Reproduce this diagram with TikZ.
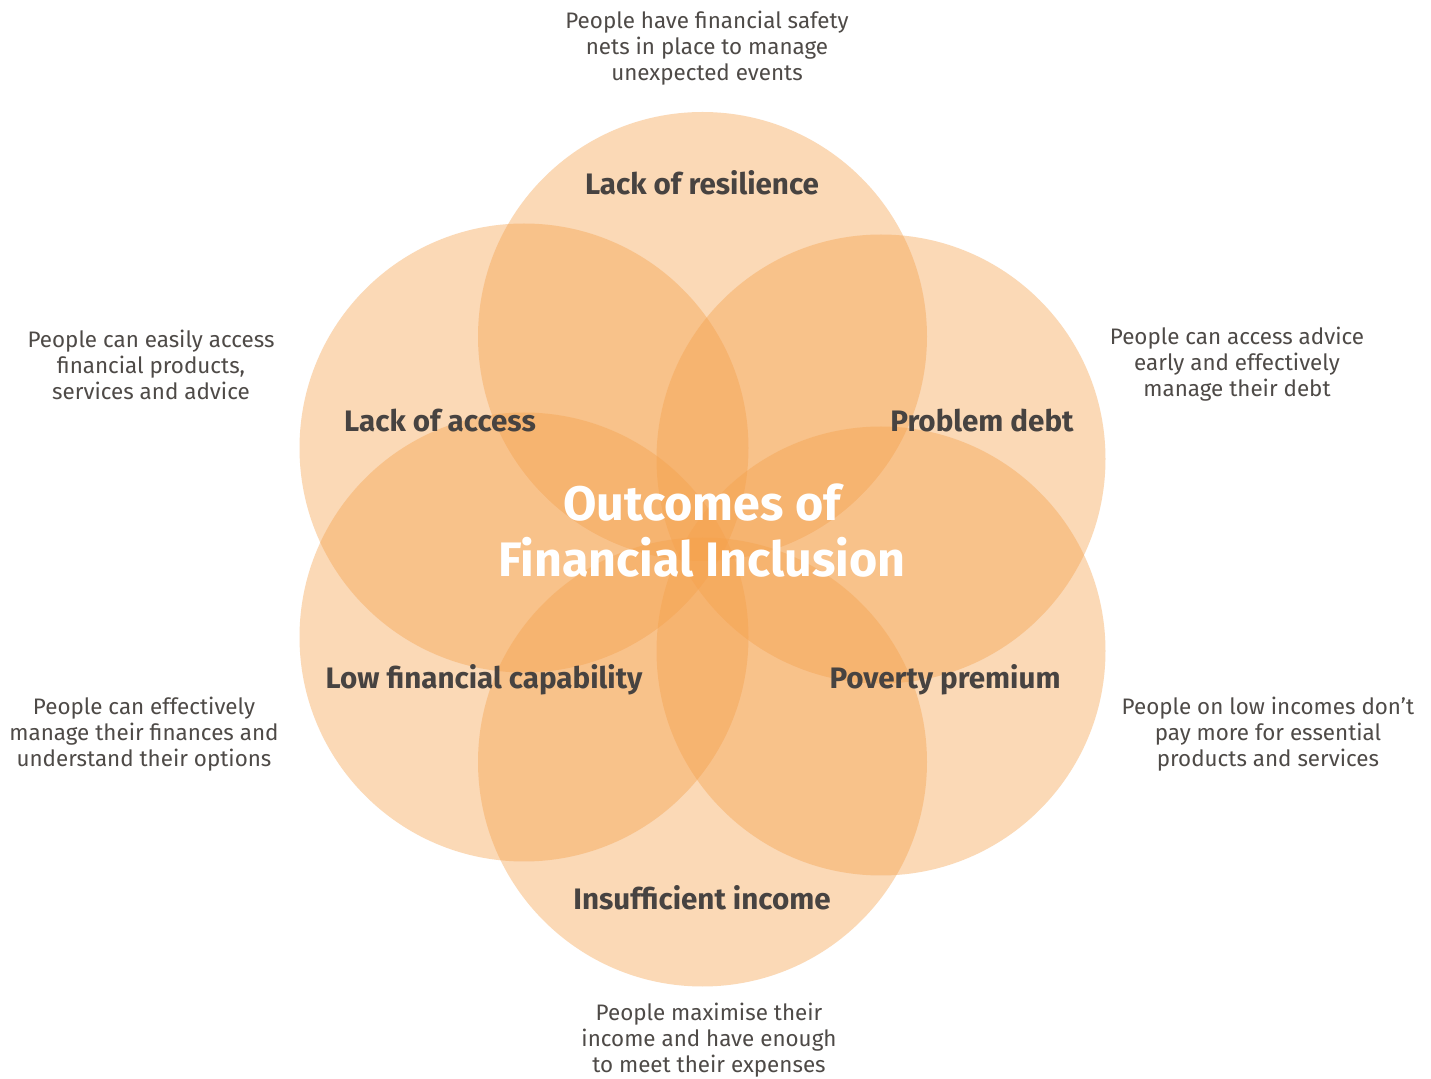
\documentclass[tikz,border=0pt]{standalone}
\usepackage{fontspec}
\setmainfont{Fira Sans}
\definecolor{petalorange}{HTML}{F5A04A}
\definecolor{labelgrey}{HTML}{474341}
\definecolor{notegrey}{HTML}{4E4A47}
\begin{document}
\begin{tikzpicture}[x=0.5pt,y=-0.5pt,
  petal/.style={circle,inner sep=0pt,minimum size=224.5pt,fill=petalorange,fill opacity=0.4,draw=none},
  theme/.style={text=labelgrey,font=\fontsize{14.8}{17}\selectfont\bfseries,inner sep=0pt},
  note/.style={text=notegrey,align=center,font=\fontsize{11.2}{13}\selectfont,inner sep=0pt},
  core/.style={text=white,align=center,font=\fontsize{24.2}{28}\selectfont\bfseries,inner sep=0pt}]
\useasboundingbox (0,0) rectangle (1431,1079);
\fill[white] (0,0) rectangle (1431,1079);

% six overlapping petals
\node[petal] (resilience) at (702.5,336.5) {};
\node[petal] (access)     at (524,448) {};
\node[petal] (debt)       at (881,459) {};
\node[petal] (capability) at (524,637) {};
\node[petal] (premium)    at (881,651) {};
\node[petal] (income)     at (702.5,762) {};

% petal labels
\node[theme] (tres) at (702,183) {Lack of resilience};
\node[theme] (tacc) at (440,421) {Lack of access};
\node[theme] (tdebt) at (982,421) {Problem debt};
\node[theme] (tcap) at (484,680) {Low financial capability};
\node[theme] (tprem) at (945,680) {Poverty premium};
\node[theme] (tinc) at (702,898) {Insufficient income};

% centre title
\node[core] (title) at (702,531) {Outcomes of\\Financial Inclusion};

% outcome notes
\node[note] (nres) at (707,48) {People have financial safety\\nets in place to manage\\unexpected events};
\node[note] (nacc) at (151,365) {People can easily access\\financial products,\\services and advice};
\node[note] (ndebt) at (1237,364) {People can access advice\\early and effectively\\manage their debt};
\node[note] (ncap) at (144,734) {People can effectively\\manage their finances and\\understand their options};
\node[note] (nprem) at (1268,734) {People on low incomes don’t\\pay more for essential\\products and services};
\node[note] (ninc) at (709,1040) {People maximise their\\income and have enough\\to meet their expenses};
\end{tikzpicture}
\end{document}
